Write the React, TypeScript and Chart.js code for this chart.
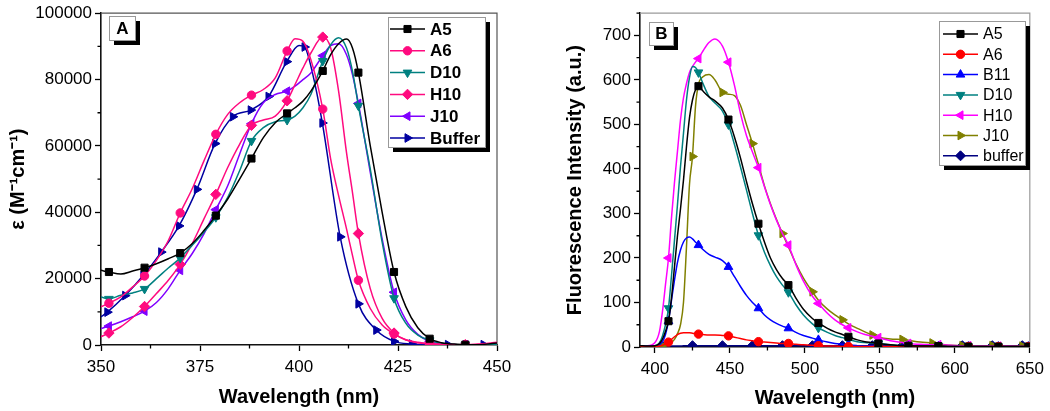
import React, { useEffect, useRef } from 'react';
import { Chart, registerables } from 'chart.js';
import { drawPoint } from 'chart.js/helpers';

Chart.register(...registerables);

const FONT = "'Liberation Sans', Arial, Helvetica, sans-serif";

// ---------------- Panel A : absorption ----------------
const A_WAVELENGTH = [350, 352, 355, 358, 361, 364, 367, 370, 373, 376, 379, 382, 385, 388, 391, 394, 397, 399, 401, 403, 406, 408, 410, 412, 413.5, 415, 418, 421, 424, 427, 430, 433, 436, 440, 442, 445, 450];
const A_A5 = [22500, 22000, 21400, 22300, 23300, 24500, 26000, 27700, 30500, 34500, 39000, 44000, 50000, 56200, 62500, 67000, 69800, 71500, 73500, 76500, 82600, 87500, 90800, 92200, 89500, 82100, 60000, 40000, 22000, 11500, 5200, 1900, 700, 200, 100, 100, 600];
const A_A6 = [11500, 12600, 14500, 17500, 20800, 25500, 31500, 39800, 47000, 55500, 63500, 69500, 73000, 75300, 77000, 80500, 88600, 92300, 91500, 86000, 71100, 56000, 45000, 35000, 27000, 19500, 11000, 6000, 3300, 1600, 800, 400, 200, 100, 100, 200, 800];
const A_D10 = [14500, 13900, 15000, 15700, 16900, 20000, 23200, 26200, 30000, 34000, 38500, 44500, 52500, 61500, 65500, 67300, 67800, 69000, 71500, 75500, 85600, 90500, 92600, 89500, 82500, 72100, 53000, 31000, 14100, 6500, 3000, 1400, 500, 100, 100, 100, 200];
const A_H10 = [2500, 3600, 5500, 8300, 11600, 15500, 19500, 24300, 30500, 38000, 45400, 53500, 60500, 66200, 67800, 69000, 73600, 78500, 83500, 88000, 92800, 89500, 76500, 58000, 46000, 33600, 17000, 8000, 3600, 1500, 700, 400, 200, 100, 100, 200, 500];
const A_J10 = [5000, 5700, 7000, 8500, 10200, 12800, 17000, 22500, 27500, 33500, 40800, 48000, 57500, 66700, 73000, 75500, 76500, 78000, 80000, 82000, 87200, 90200, 90800, 87500, 81500, 72800, 52000, 32000, 15900, 7500, 3200, 1100, 400, 100, 100, 100, 200];
const A_BUFFER_WAVELENGTH = [350, 351.6, 356.1, 360.7, 365.2, 369.7, 374.2, 378.8, 383.3, 387.8, 392.3, 396.9, 400, 401.4, 403.5, 405.9, 410.4, 415, 419.5, 424, 428.5, 433, 437.6, 442.1, 446.6, 450];
const A_BUFFER = [8500, 9900, 14900, 21000, 28000, 35900, 46900, 60700, 68800, 70800, 74900, 85400, 90300, 89800, 81500, 66900, 32600, 12400, 4500, 1100, 300, 100, 100, 100, 100, 100];
const A_MARKER_WAVELENGTH = [352, 361, 370, 379, 388, 397, 406, 415, 424, 433, 442];
const A_BUFFER_MARKER_WAVELENGTH = [351.6, 356.1, 360.7, 365.2, 369.7, 374.2, 378.8, 383.3, 387.8, 392.3, 396.9, 401.4, 405.9, 410.4, 415, 419.5, 424, 428.5, 433, 437.6, 442.1, 446.6];
const A_X_TICKS = [350, 375, 400, 425, 450];
const A_X_MINOR = [362.5, 387.5, 412.5, 437.5];
const A_Y_TICKS = [0, 20000, 40000, 60000, 80000, 100000];
const A_Y_MINOR = [10000, 30000, 50000, 70000, 90000];

// ---------------- Panel B : fluorescence ----------------
const B_WAVELENGTH = [390, 395, 400, 403, 405, 407, 409, 411, 413, 415, 417, 419, 421, 423, 425, 427, 429, 432, 436, 440, 445, 449, 453, 457, 461, 465, 469, 473, 477, 481, 485, 489, 494, 499, 505, 509, 515, 520, 525, 529, 535, 540, 545, 549, 557, 565, 569, 577, 585, 589, 597, 605, 609, 617, 625, 629, 637, 645, 649, 650];
const B_A5 = [3, 2, 3, 8, 18, 35, 58, 110, 180, 250, 310, 375, 450, 515, 555, 578, 586, 575, 562, 553, 537, 511, 472, 425, 372, 322, 277, 236, 200, 174, 154, 139, 110, 85, 64, 54, 42, 34, 28, 23, 16, 12, 10, 8, 5, 3, 3, 2, 2, 2, 1, 1, 1, 1, 1, 1, 1, 1, 1, 1];
const B_A6 = [1, 1, 1, 2, 4, 7, 11, 17, 23, 28, 31, 32, 32, 32, 31, 30, 29, 28, 27, 27, 26, 25, 22, 19, 16, 14, 12, 11, 10, 9, 8, 8, 6, 5, 4, 3, 2, 2, 1, 1, 1, 1, 1, 1, 1, 1, 1, 1, 1, 1, 1, 1, 1, 1, 1, 1, 1, 1, 1, 1];
const B_B11 = [2, 2, 2, 5, 12, 28, 58, 105, 150, 190, 218, 236, 245, 247, 243, 236, 229, 219, 208, 202, 194, 180, 158, 136, 116, 100, 87, 72, 61, 53, 47, 42, 33, 26, 20, 16, 11, 8, 6, 4.5, 3, 2, 2, 1.5, 1, 1, 1, 1, 1, 1, 1, 1, 1, 1, 1, 1, 1, 1, 1, 1];
const B_D10 = [3, 2, 3, 10, 25, 50, 87, 160, 240, 320, 405, 480, 555, 605, 630, 628, 617, 592, 563, 548, 530, 500, 455, 405, 353, 300, 251, 213, 183, 158, 139, 123, 95, 72, 52, 43, 33, 26, 21, 17, 12, 10, 9, 8, 5, 3, 3, 2, 2, 2, 1, 1, 1, 1, 1, 1, 1, 1, 1, 1];
const B_H10 = [3, 3, 10, 35, 80, 140, 200, 290, 370, 440, 510, 560, 592, 617, 630, 640, 648, 665, 684, 692, 676, 640, 588, 525, 475, 438, 403, 360, 320, 285, 255, 229, 185, 148, 114, 98, 76, 61, 50, 43, 34, 28, 24, 21, 14, 10, 8, 6, 5, 5, 4, 3, 3, 2, 2, 2, 2, 1, 1, 1];
const B_J10 = [3, 2, 2, 3, 3, 4, 6, 10, 17, 30, 50, 100, 225, 365, 428, 540, 590, 607, 612, 600, 572, 568, 565, 543, 500, 457, 410, 362, 322, 287, 255, 225, 187, 155, 124, 105, 85, 72, 61, 52, 42, 34, 27, 22, 18, 17, 15, 11, 9, 7, 4, 3, 3, 3, 3, 3, 2, 2, 2, 2];
const B_BUFFER = [2, 2, 2, 2, 2, 2, 2, 2, 2, 2, 2, 3, 3, 3, 3, 3, 3, 3, 3, 3, 3, 3, 3, 3, 3, 3, 3, 3, 3, 3, 3, 3, 3, 3, 3, 3, 3, 3, 3, 3, 3, 3, 3, 3, 3, 3, 3, 3, 3, 3, 3, 3, 3, 3, 3, 3, 3, 3, 3, 3];
const B_MARKER_WAVELENGTH = [409, 429, 449, 469, 489, 509, 529, 549, 569, 589, 609, 629, 649];
const B_MARKER_WAVELENGTH_2 = [405, 425, 445, 465, 485, 505, 525, 545, 565, 585, 605, 625, 645];
const B_X_TICKS = [400, 450, 500, 550, 600, 650];
const B_X_MINOR = [425, 475, 525, 575, 625];
const B_Y_TICKS = [0, 100, 200, 300, 400, 500, 600, 700];
const B_Y_MINOR = [50, 150, 250, 350, 450, 550, 650, 750];

type Series = {
  label: string;
  xs: number[];
  ys: number[];
  markers: number[];
  color: string;
  style: string;
  rotation: number;
  radius: number;
};

const PANEL_A_SERIES: Series[] = [
  { label: 'A5', xs: A_WAVELENGTH, ys: A_A5, markers: A_MARKER_WAVELENGTH, color: '#000000', style: 'rect', rotation: 0, radius: 5 },
  { label: 'A6', xs: A_WAVELENGTH, ys: A_A6, markers: A_MARKER_WAVELENGTH, color: '#FF0A7F', style: 'circle', rotation: 0, radius: 4.2 },
  { label: 'D10', xs: A_WAVELENGTH, ys: A_D10, markers: A_MARKER_WAVELENGTH, color: '#008080', style: 'triangle', rotation: 180, radius: 5 },
  { label: 'H10', xs: A_WAVELENGTH, ys: A_H10, markers: A_MARKER_WAVELENGTH, color: '#FF0A7F', style: 'rectRot', rotation: 0, radius: 5.2 },
  { label: 'J10', xs: A_WAVELENGTH, ys: A_J10, markers: A_MARKER_WAVELENGTH, color: '#8000FF', style: 'triangle', rotation: -90, radius: 5 },
  { label: 'Buffer', xs: A_BUFFER_WAVELENGTH, ys: A_BUFFER, markers: A_BUFFER_MARKER_WAVELENGTH, color: '#0000A0', style: 'triangle', rotation: 90, radius: 5 },
];

const PANEL_B_SERIES: Series[] = [
  { label: 'A5', xs: B_WAVELENGTH, ys: B_A5, markers: B_MARKER_WAVELENGTH, color: '#000000', style: 'rect', rotation: 0, radius: 5 },
  { label: 'A6', xs: B_WAVELENGTH, ys: B_A6, markers: B_MARKER_WAVELENGTH, color: '#FF0000', style: 'circle', rotation: 0, radius: 4.2 },
  { label: 'B11', xs: B_WAVELENGTH, ys: B_B11, markers: B_MARKER_WAVELENGTH, color: '#0000FF', style: 'triangle', rotation: 0, radius: 5 },
  { label: 'D10', xs: B_WAVELENGTH, ys: B_D10, markers: B_MARKER_WAVELENGTH, color: '#008080', style: 'triangle', rotation: 180, radius: 5 },
  { label: 'H10', xs: B_WAVELENGTH, ys: B_H10, markers: B_MARKER_WAVELENGTH, color: '#FF00FF', style: 'triangle', rotation: -90, radius: 5 },
  { label: 'J10', xs: B_WAVELENGTH, ys: B_J10, markers: B_MARKER_WAVELENGTH_2, color: '#808000', style: 'triangle', rotation: 90, radius: 5 },
  { label: 'buffer', xs: B_WAVELENGTH, ys: B_BUFFER, markers: B_MARKER_WAVELENGTH_2, color: '#000080', style: 'rectRot', rotation: 0, radius: 5 },
];

type PanelCfg = {
  width: number;
  height: number;
  series: Series[];
  xMin: number; xMax: number; yMin: number; yMax: number;
  xTicks: number[]; xMinor: number[]; yTicks: number[]; yMinor: number[];
  xTitle: string; yTitle: string;
  padRight: number; padTop: number; yAxisWidth: number; xAxisHeight: number;
  yTitlePad: number; xTitlePad: number;
  frameColor: string;
  tag: { text: string; x: number; y: number; w: number; h: number };
  legend: { x: number; y: number; w: number; h: number; first: number; gap: number; lineFrom: number; lineTo: number; textX: number; font: string };
};

const PANEL_A: PanelCfg = {
  width: 520, height: 411, series: PANEL_A_SERIES,
  xMin: 350, xMax: 450, yMin: 0, yMax: 100000,
  xTicks: A_X_TICKS, xMinor: A_X_MINOR, yTicks: A_Y_TICKS, yMinor: A_Y_MINOR,
  xTitle: 'Wavelength (nm)', yTitle: 'ε (M⁻¹cm⁻¹)',
  padRight: 23, padTop: 7, yAxisWidth: 101, xAxisHeight: 66,
  yTitlePad: 6, xTitlePad: 2,
  frameColor: '#555555',
  tag: { text: 'A', x: 109, y: 16, w: 26, h: 24 },
  legend: { x: 388, y: 17, w: 97, h: 130, first: 12, gap: 21.8, lineFrom: 2, lineTo: 37, textX: 42, font: `bold 17px ${FONT}` },
};

const PANEL_B: PanelCfg = {
  width: 525, height: 411, series: PANEL_B_SERIES,
  xMin: 390, xMax: 650, yMin: 0, yMax: 750,
  xTicks: B_X_TICKS, xMinor: B_X_MINOR, yTicks: B_Y_TICKS, yMinor: B_Y_MINOR,
  xTitle: 'Wavelength (nm)', yTitle: 'Fluorescence Intensity (a.u.)',
  padRight: 14, padTop: 13, yAxisWidth: 115, xAxisHeight: 64,
  yTitlePad: 38, xTitlePad: 1,
  frameColor: '#9a9a9a',
  tag: { text: 'B', x: 124, y: 22, w: 24, h: 23 },
  legend: { x: 414, y: 21, w: 86, h: 144, first: 13, gap: 20.3, lineFrom: 4, lineTo: 39, textX: 44, font: `16px ${FONT}` },
};

function decorPlugin(cfg: PanelCfg) {
  return {
    id: 'decor' + cfg.tag.text,
    beforeDatasetsDraw(chart: any) {
      const { ctx, chartArea } = chart;
      ctx.save();
      ctx.strokeStyle = cfg.frameColor;
      ctx.lineWidth = 1.2;
      ctx.beginPath();
      ctx.moveTo(chartArea.left, chartArea.top);
      ctx.lineTo(chartArea.right, chartArea.top);
      ctx.lineTo(chartArea.right, chartArea.bottom);
      ctx.stroke();
      // minor ticks
      const xs = chart.scales.x;
      const ys = chart.scales.y;
      ctx.strokeStyle = '#000';
      ctx.lineWidth = 1.3;
      ctx.beginPath();
      cfg.xMinor.forEach((v) => {
        const px = xs.getPixelForValue(v);
        ctx.moveTo(px, chartArea.bottom);
        ctx.lineTo(px, chartArea.bottom + 3.5);
      });
      cfg.yMinor.forEach((v) => {
        const py = ys.getPixelForValue(v);
        ctx.moveTo(chartArea.left - 3.5, py);
        ctx.lineTo(chartArea.left, py);
      });
      ctx.stroke();
      ctx.restore();
    },
    afterDraw(chart: any) {
      const ctx = chart.ctx;
      ctx.save();
      // panel tag
      const t = cfg.tag;
      ctx.fillStyle = '#000';
      ctx.fillRect(t.x + 5, t.y + 5, t.w, t.h);
      ctx.fillStyle = '#fff';
      ctx.fillRect(t.x, t.y, t.w, t.h);
      ctx.strokeStyle = '#999';
      ctx.lineWidth = 1;
      ctx.strokeRect(t.x + 0.5, t.y + 0.5, t.w, t.h);
      ctx.fillStyle = '#000';
      ctx.font = `bold 17px ${FONT}`;
      ctx.textAlign = 'center';
      ctx.textBaseline = 'middle';
      ctx.fillText(t.text, t.x + t.w / 2 + 0.5, t.y + t.h / 2 + 1);
      // legend
      const L = cfg.legend;
      ctx.fillStyle = '#000';
      ctx.fillRect(L.x + 5, L.y + 5, L.w, L.h);
      ctx.fillStyle = '#fff';
      ctx.fillRect(L.x, L.y, L.w, L.h);
      ctx.strokeStyle = '#999';
      ctx.strokeRect(L.x + 0.5, L.y + 0.5, L.w, L.h);
      cfg.series.forEach((s, i) => {
        const y = L.y + L.first + i * L.gap;
        ctx.strokeStyle = s.color;
        ctx.lineWidth = 1.5;
        ctx.beginPath();
        ctx.moveTo(L.x + L.lineFrom, y);
        ctx.lineTo(L.x + L.lineTo, y);
        ctx.stroke();
        ctx.fillStyle = s.color;
        ctx.lineWidth = 1;
        drawPoint(ctx, { pointStyle: s.style, rotation: s.rotation, radius: s.radius, borderWidth: 1 } as any, L.x + (L.lineFrom + L.lineTo) / 2, y);
        ctx.fillStyle = '#000';
        ctx.font = L.font;
        ctx.textAlign = 'left';
        ctx.textBaseline = 'middle';
        ctx.fillText(s.label, L.x + L.textX, y + 1);
      });
      ctx.restore();
    },
  };
}

function buildConfig(cfg: PanelCfg): any {
  const datasets = cfg.series.map((s) => {
    const markerSet = new Set(s.markers);
    return {
      label: s.label,
      data: s.xs.map((x, i) => ({ x, y: s.ys[i] })),
      borderColor: s.color,
      backgroundColor: s.color,
      borderWidth: 1.5,
      pointStyle: s.style,
      pointRotation: s.rotation,
      pointRadius: (c: any) => (c.raw && markerSet.has(c.raw.x) ? s.radius : 0),
      pointBackgroundColor: s.color,
      pointBorderColor: s.color,
      pointBorderWidth: 1,
      cubicInterpolationMode: 'monotone',
      fill: false,
    };
  });
  const tickFont = { family: FONT, size: 17 };
  const titleFont = { family: FONT, size: 20, weight: 'bold' };
  return {
    type: 'line',
    data: { datasets },
    plugins: [decorPlugin(cfg)],
    options: {
      animation: false,
      responsive: false,
      events: [],
      layout: { padding: { left: 0, right: cfg.padRight, top: cfg.padTop, bottom: 0 } },
      plugins: { legend: { display: false }, tooltip: { enabled: false } },
      scales: {
        x: {
          type: 'linear',
          min: cfg.xMin,
          max: cfg.xMax,
          afterBuildTicks: (sc: any) => { sc.ticks = cfg.xTicks.map((v) => ({ value: v })); },
          afterFit: (sc: any) => { sc.height = cfg.xAxisHeight; },
          grid: { drawOnChartArea: false, drawTicks: true, tickLength: 6, tickColor: '#000', tickWidth: 1.3 },
          border: { display: true, color: '#111', width: 1.6 },
          ticks: { color: '#000', font: tickFont, padding: 6, maxRotation: 0, autoSkip: false, callback: (v: any) => String(v) },
          title: { display: true, text: cfg.xTitle, color: '#000', font: titleFont, padding: { top: 0, bottom: cfg.xTitlePad } },
        },
        y: {
          type: 'linear',
          min: cfg.yMin,
          max: cfg.yMax,
          afterBuildTicks: (sc: any) => { sc.ticks = cfg.yTicks.map((v) => ({ value: v })); },
          afterFit: (sc: any) => { sc.width = cfg.yAxisWidth; },
          grid: { drawOnChartArea: false, drawTicks: true, tickLength: 6, tickColor: '#000', tickWidth: 1.3 },
          border: { display: true, color: '#111', width: 1.6 },
          ticks: { color: '#000', font: tickFont, padding: 3, autoSkip: false, callback: (v: any) => String(v) },
          title: { display: true, text: cfg.yTitle, color: '#000', font: titleFont, padding: { top: cfg.yTitlePad, bottom: 0 } },
        },
      },
    },
  };
}

function Panel({ cfg, left }: { cfg: PanelCfg; left: number }) {
  const ref = useRef<HTMLCanvasElement | null>(null);
  useEffect(() => {
    if (!ref.current) return;
    const chart = new Chart(ref.current, buildConfig(cfg));
    return () => chart.destroy();
  }, [cfg]);
  return (
    <canvas
      ref={ref}
      width={cfg.width}
      height={cfg.height}
      style={{ position: 'absolute', left, top: 0, width: cfg.width, height: cfg.height }}
    />
  );
}

export default function App() {
  return (
    <div style={{ position: 'absolute', left: 0, top: 0, width: 1050, height: 411, background: '#fff', overflow: 'hidden' }}>
      <Panel cfg={PANEL_A} left={0} />
      <Panel cfg={PANEL_B} left={525} />
    </div>
  );
}
